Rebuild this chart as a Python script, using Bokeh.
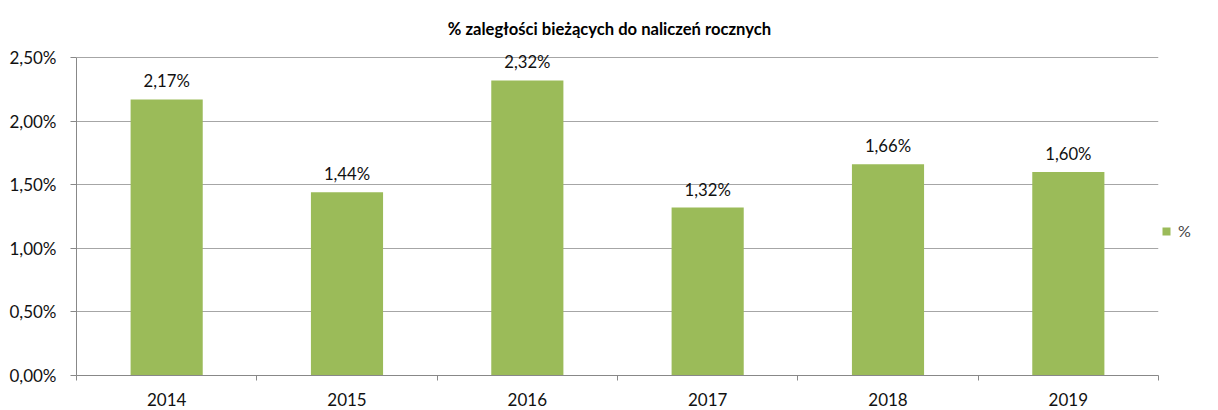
from bokeh.plotting import figure
from bokeh.models import ColumnDataSource, FixedTicker, Legend, LegendItem, Range1d
from bokeh.embed import file_html
from bokeh.resources import INLINE
from bokeh.core.properties import value

years = ["2014", "2015", "2016", "2017", "2018", "2019"]
pct = [2.17, 1.44, 2.32, 1.32, 1.66, 1.60]
y_ticks = [0.0, 0.5, 1.0, 1.5, 2.0, 2.5]
y_tick_labels = ["0,00%", "0,50%", "1,00%", "1,50%", "2,00%", "2,50%"]
title_text = "% zaległości  bieżących  do  naliczeń  rocznych"
series_name = "%"

FONT = "Lato"
GREEN = "#9BBB59"
GRID = "#a6a6a6"
Y_MAX = 2.5
HEADROOM_PX = 6
PLOT_PX = 318

xs = [i + 0.5 for i in range(len(years))]
src = ColumnDataSource(dict(x=xs, top=pct, year=years,
                            lab=[("%.2f" % v).replace(".", ",") + "%" for v in pct]))

p = figure(frame_width=1082, frame_height=PLOT_PX + HEADROOM_PX,
           output_backend="svg", toolbar_location=None,
           x_range=Range1d(0, len(years)),
           y_range=Range1d(0, Y_MAX * (PLOT_PX + HEADROOM_PX) / PLOT_PX),
           min_border_left=76, min_border_right=52, min_border_top=51, min_border_bottom=33,
           title=title_text)
p.title.text_font = FONT
p.title.text_font_size = "16.6px"
p.title.text_font_style = "bold"
p.title.align = "center"
p.title.standoff = 26
p.title.text_color = "#000000"
p.outline_line_color = None

r = p.vbar(x="x", top="top", width=0.4, bottom=0, source=src, color=GREEN, line_color=None)
p.text(x="x", y="top", text="lab", source=src, text_align="center", text_baseline="bottom",
       y_offset=-8, text_font=value(FONT), text_font_size="16.7px", text_color="#111111")

p.xaxis.ticker = FixedTicker(ticks=xs, minor_ticks=list(range(len(years) + 1)))
p.xaxis.major_label_overrides = {x: y for x, y in zip(xs, years)}
p.xaxis.major_tick_line_color = None
p.xaxis.major_tick_out = 0
p.xaxis.major_tick_in = 0
p.xaxis.minor_tick_in = 0
p.xaxis.minor_tick_out = 5
p.xaxis.minor_tick_line_color = "#888888"
p.xaxis.axis_line_color = "#888888"
p.xaxis.major_label_text_font = FONT
p.xaxis.major_label_text_font_size = "17px"
p.xaxis.major_label_text_color = "#111111"
p.xaxis.major_label_standoff = 12

p.yaxis.ticker = FixedTicker(ticks=y_ticks, minor_ticks=[])
p.yaxis.bounds = (0, Y_MAX)
p.yaxis.major_label_overrides = {t: l for t, l in zip(y_ticks, y_tick_labels)}
p.yaxis.major_tick_in = 0
p.yaxis.major_tick_out = 6
p.yaxis.major_tick_line_color = "#888888"
p.yaxis.axis_line_color = "#888888"
p.yaxis.minor_tick_line_color = None
p.yaxis.major_label_text_font = FONT
p.yaxis.major_label_text_font_size = "17px"
p.yaxis.major_label_text_color = "#111111"
p.yaxis.major_label_standoff = 14

p.xgrid.grid_line_color = None
p.ygrid.ticker = FixedTicker(ticks=y_ticks)
p.ygrid.grid_line_color = GRID

legend = Legend(items=[LegendItem(label=series_name, renderers=[r])],
                location="center_left", margin=3, padding=0, spacing=0,
                title=" ", title_text_font_size="16px", title_standoff=17,
                glyph_width=10, glyph_height=10, label_height=10, label_standoff=7,
                label_text_font=FONT, label_text_font_size="16px",
                border_line_color=None, background_fill_alpha=0)
p.add_layout(legend, "right")

open("out.html", "w").write(file_html(p, INLINE))
